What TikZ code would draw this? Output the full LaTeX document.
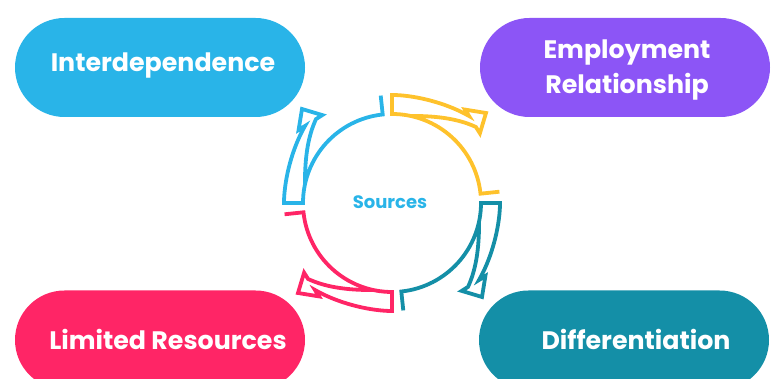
\documentclass[tikz,border=0pt]{standalone}
\usepackage{fontspec}
\setmainfont{Poppins}
\usetikzlibrary{shapes.misc}
\definecolor{cblue}{HTML}{29B4E8}
\definecolor{cpurple}{HTML}{8C55F6}
\definecolor{cpink}{HTML}{FF2566}
\definecolor{cteal}{HTML}{148FA7}
\definecolor{cyellow}{HTML}{FEC22C}

\begin{document}
\begin{tikzpicture}[x=1pt,y=1pt,
  pill/.style={rounded rectangle,minimum width=290pt,minimum height=99pt,inner sep=0pt},
  lbl/.style={text=white,font=\fontsize{25.3}{35}\selectfont\bfseries,align=center,inner sep=0pt},
  arr/.style={line width=3.8pt}]
\useasboundingbox(0,0)rectangle(779,379);
\clip(0,0)rectangle(779,379);
\coordinate(C)at(392,176);
\node[pill,fill=cblue](P1)at(160,311.5){};
\node[pill,fill=cpurple](P2)at(625,311.5){};
\node[pill,fill=cteal](P3)at(624,39){};
\node[pill,fill=cpink](P4)at(160,39){};
\node[lbl,anchor=base](T1)at(163,307){Interdependence};
\node[lbl](T2)at(627,309){Employment\\Relationship};
\node[lbl,anchor=base](T3)at(636,29){Differentiation};
\node[lbl,anchor=base](T4)at(168,29){Limited Resources};
\foreach\r/\c in{0/cblue,-90/cyellow,-180/cteal,-270/cpink}
\draw[arr,\c,shift={(C)},rotate=\r](96:108)--(96:89)arc[start angle=96,end angle=180,radius=89]--(180:108)
  arc[start angle=180,end angle=176,radius=108]..controls(-106.0,31.4)and(-98.0,57.9)..(-87.0,77.0)
  --(-93.4,73.0)--(-90,94)--(-69.7,87.9)--(-76.0,83.9)..controls(-85.3,64.0)and(-87.1,40.5)..(168:89);
\node[text=cblue,font=\fontsize{18}{20}\selectfont\bfseries,anchor=base](S)at(390,170){Sources};
\end{tikzpicture}
\end{document}
